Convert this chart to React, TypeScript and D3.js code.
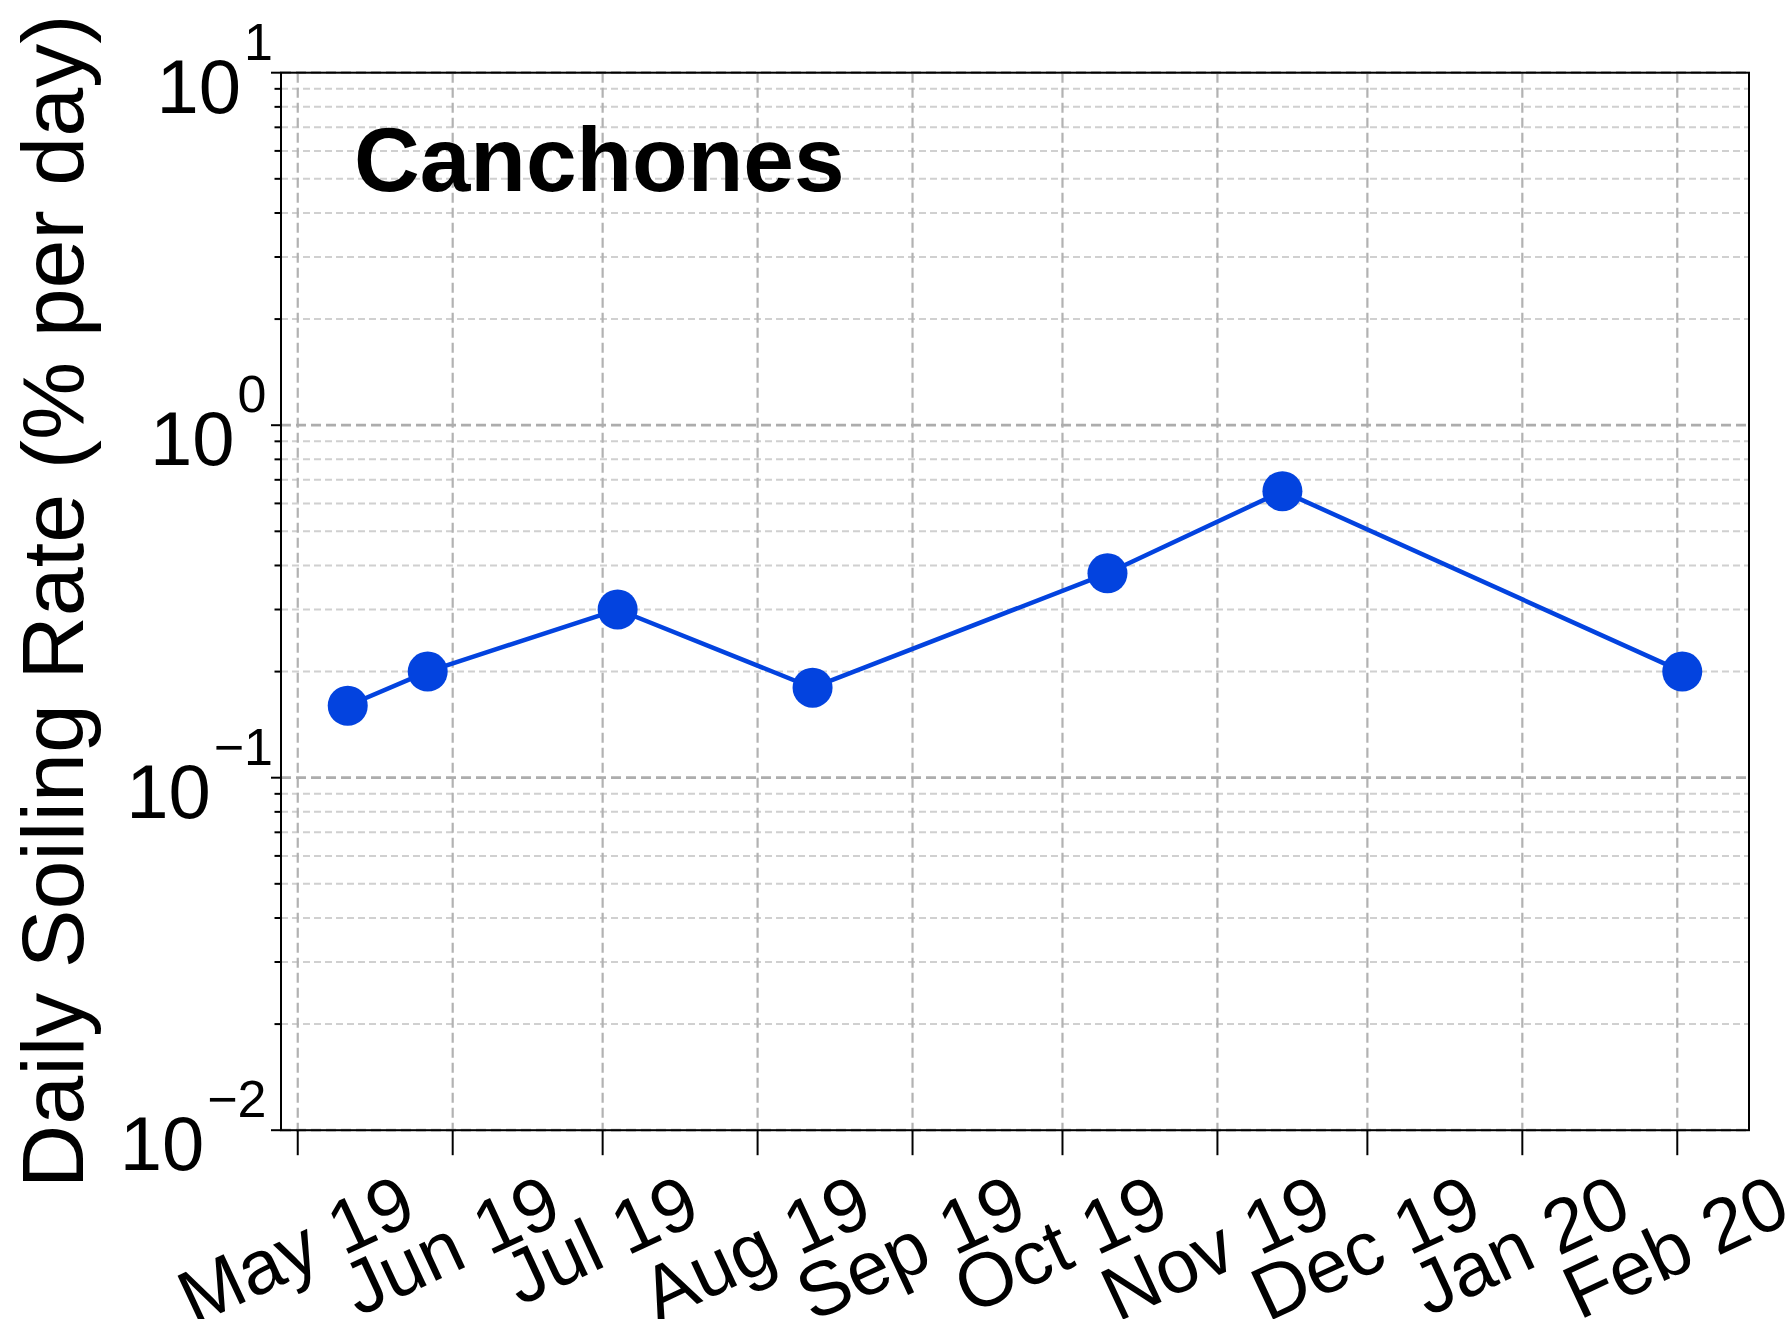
import React, { useEffect, useRef } from "react";
import * as d3 from "d3";

// ---- data ----
const sampleDates = ["2019-05-11", "2019-05-27", "2019-07-04", "2019-08-12", "2019-10-10", "2019-11-14", "2020-02-02"];
const soilingRates = [0.16, 0.2, 0.3, 0.18, 0.38, 0.65, 0.2];
const monthTickDates = [
  "2019-05-01", "2019-06-01", "2019-07-01", "2019-08-01", "2019-09-01",
  "2019-10-01", "2019-11-01", "2019-12-01", "2020-01-01", "2020-02-01",
];
const yDecades = [0.01, 0.1, 1, 10];
const yExponentLabels = ["\u22122", "\u22121", "0", "1"];
const titleText = "Canchones";
const yAxisTitle = "Daily Soiling Rate (% per day)";

// ---- layout ----
const W = 1787;
const H = 1319;
const P = { left: 281, right: 1749, top: 72.7, bottom: 1130.2 };
const FONT = "'Liberation Sans', Arial, Helvetica, sans-serif";
const BLUE = "#0343df";

export default function App() {
  const ref = useRef<SVGSVGElement>(null);

  useEffect(() => {
    const svg = d3.select(ref.current as SVGSVGElement);
    svg.selectAll("*").remove();

    const parse = d3.utcParse("%Y-%m-%d");
    const xs = sampleDates.map((s) => parse(s) as Date);
    const [x0, x1] = d3.extent(xs) as [Date, Date];
    const span = +x1 - +x0;
    const x = d3
      .scaleUtc()
      .domain([new Date(+x0 - 0.05 * span), new Date(+x1 + 0.05 * span)])
      .range([P.left, P.right]);
    const y = d3.scaleLog().domain([0.01, 10]).range([P.bottom, P.top]);

    svg.append("rect").attr("width", W).attr("height", H).attr("fill", "#fff");

    // minor values
    const minors: number[] = [];
    yDecades.slice(0, -1).forEach((d) => {
      for (let k = 2; k <= 9; k++) minors.push(d * k);
    });

    const grid = svg.append("g");
    // minor horizontal grid
    grid
      .selectAll("line.minor")
      .data(minors)
      .join("line")
      .attr("x1", P.left)
      .attr("x2", P.right)
      .attr("y1", (d) => y(d))
      .attr("y2", (d) => y(d))
      .attr("stroke", "#d0d0d0")
      .attr("stroke-width", 2)
      .attr("stroke-dasharray", "7,4");
    // vertical grid
    const ticks = monthTickDates.map((s) => parse(s) as Date);
    grid
      .selectAll("line.vg")
      .data(ticks)
      .join("line")
      .attr("x1", (d) => x(d))
      .attr("x2", (d) => x(d))
      .attr("y1", P.top)
      .attr("y2", P.bottom)
      .attr("stroke", "#b2b2b2")
      .attr("stroke-width", 2.2)
      .attr("stroke-dasharray", "10,5");
    // major horizontal grid
    grid
      .selectAll("line.major")
      .data(yDecades)
      .join("line")
      .attr("x1", P.left)
      .attr("x2", P.right)
      .attr("y1", (d) => y(d))
      .attr("y2", (d) => y(d))
      .attr("stroke", "#adadad")
      .attr("stroke-width", 2.8)
      .attr("stroke-dasharray", "10,5");

    // data line
    const pts = xs.map((d, i) => [x(d), y(soilingRates[i])] as [number, number]);
    svg
      .append("path")
      .attr("d", d3.line()(pts) as string)
      .attr("fill", "none")
      .attr("stroke", BLUE)
      .attr("stroke-width", 4.5)
      .attr("stroke-linejoin", "round");
    svg
      .append("g")
      .selectAll("circle")
      .data(pts)
      .join("circle")
      .attr("cx", (d) => d[0])
      .attr("cy", (d) => d[1])
      .attr("r", 20)
      .attr("fill", BLUE);

    // spines
    svg
      .append("rect")
      .attr("x", P.left)
      .attr("y", P.top)
      .attr("width", P.right - P.left)
      .attr("height", P.bottom - P.top)
      .attr("fill", "none")
      .attr("stroke", "#000")
      .attr("stroke-width", 2);

    // y ticks
    const axG = svg.append("g").attr("stroke", "#000").attr("stroke-width", 2);
    yDecades.forEach((d) => {
      axG.append("line").attr("x1", P.left - 10).attr("x2", P.left).attr("y1", y(d)).attr("y2", y(d));
    });
    minors.forEach((d) => {
      axG.append("line").attr("x1", P.left - 6.5).attr("x2", P.left).attr("y1", y(d)).attr("y2", y(d));
    });
    // x ticks
    ticks.forEach((d) => {
      axG.append("line").attr("x1", x(d)).attr("x2", x(d)).attr("y1", P.bottom).attr("y2", P.bottom + 25);
    });

    // y tick labels
    const labG = svg.append("g").attr("font-family", FONT).attr("fill", "#000");
    yDecades.forEach((d, i) => {
      const exp = yExponentLabels[i];
      const lastBearing = exp.endsWith("1") ? 9 : 2.5;
      const t = labG
        .append("text")
        .attr("x", 264 + lastBearing)
        .attr("y", y(d) + 40)
        .attr("text-anchor", "end")
        .attr("font-size", 76);
      t.append("tspan").text("10");
      t.append("tspan").attr("dy", -53).attr("dx", 3).attr("font-size", 52).text(exp);
    });

    // x tick labels
    const fmt = d3.utcFormat("%b %y");
    const theta = (25 * Math.PI) / 180;
    ticks.forEach((d) => {
      const t = labG
        .append("text")
        .attr("font-size", 76)
        .attr("text-anchor", "middle")
        .text(fmt(d));
      const bb = (t.node() as SVGTextElement).getBBox();
      const rotH = bb.width * Math.sin(theta) + bb.height * Math.cos(theta);
      const cy = 1158 + rotH / 2;
      t.attr("y", -(bb.y + bb.height / 2)).attr(
        "transform",
        `translate(${x(d) - 2},${cy}) rotate(-25)`
      );
    });

    // y axis title
    labG
      .append("text")
      .attr("transform", `translate(83,${(P.top + P.bottom) / 2}) rotate(-90)`)
      .attr("text-anchor", "middle")
      .attr("font-size", 88)
      .text(yAxisTitle);

    // panel title
    labG
      .append("text")
      .attr("x", 354)
      .attr("y", 191)
      .attr("font-size", 91)
      .attr("font-weight", "bold")
      .text(titleText);
  }, []);

  return (
    <svg
      ref={ref}
      width={W}
      height={H}
      style={{ position: "absolute", left: 0, top: 0, display: "block" }}
    />
  );
}
